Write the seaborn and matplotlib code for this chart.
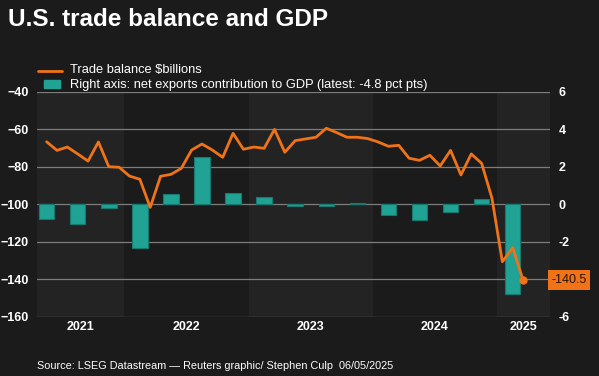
import numpy as np
import pandas as pd
import matplotlib
matplotlib.use("Agg")
import matplotlib.pyplot as plt
import seaborn as sns

# Balança comercial mensal (US$ bilhões), mai/2021 a mar/2025
meses = pd.period_range("2021-05", "2025-03", freq="M")
saldo = [-66.7, -71.3, -69.5, -73.2, -77.0, -66.8, -80.0, -80.3,
         -85.0, -86.7, -101.7, -85.1, -84.1, -80.9, -71.1, -67.9, -71.1, -75.0, -62.2, -70.7,
         -69.5, -70.2, -60.1, -72.3, -66.1, -65.2, -64.3, -59.5, -61.8, -64.3, -64.3, -65.0,
         -66.8, -69.1, -68.6, -75.5, -76.6, -73.9, -79.6, -71.3, -84.4, -73.2, -78.2, -96.9,
         -130.7, -123.2, -140.5]

# Contribuição das exportações líquidas ao PIB (pontos percentuais), 2T2021 a 1T2025
trimestres = pd.period_range("2021Q2", "2025Q1", freq="Q")
contrib = [-0.78, -1.07, -0.21, -2.34, 0.53, 2.50, 0.59, 0.37,
           -0.10, -0.07, 0.09, -0.59, -0.86, -0.43, 0.26, -4.78]

anos = ["2021", "2022", "2023", "2024", "2025"]

# posição em meses desde jan/2021 (meio do mês / meio do trimestre)
x_mes = [(p.year - 2021) * 12 + p.month - 1 + 0.5 for p in meses]
x_tri = [(p.year - 2021) * 12 + (p.quarter - 1) * 3 + 1.5 for p in trimestres]

df_linha = pd.DataFrame({"x": x_mes, "saldo": saldo})
df_barra = pd.DataFrame({"x": x_tri, "contrib": contrib})

fundo = "#1b1b1b"
faixa = "#232323"
laranja = "#f07318"
verde = "#20a295"
grade = "#7c7c7c"

sns.set_style("dark")
plt.rcParams["font.family"] = ["Liberation Sans", "DejaVu Sans"]

fig = plt.figure(figsize=(5.99, 3.76), dpi=100, facecolor=fundo)
W, H = 599, 376
x0, x1, y0, y1 = 37, 550, 91.7, 316.7
ax = fig.add_axes([x0 / W, 1 - y1 / H, (x1 - x0) / W, (y1 - y0) / H])
ax.set_facecolor(fundo)

xmin, xmax = 3.57, 53.1

# faixas alternadas por ano
for i in (0, 2, 4):
    ax.axvspan(i * 12, (i + 1) * 12, color=faixa, zorder=0, lw=0)

# barras (eixo direito)
sns.barplot(data=df_barra, x="x", y="contrib", native_scale=True, width=0.5,
            color=verde, edgecolor="#177a70", linewidth=0.8, saturation=1,
            ax=ax, zorder=3)
ax.set_ylim(-6, 6)
ticks_dir = np.arange(-6, 7, 2)
ax.set_yticks(ticks_dir)
# o "-4" fica escondido atrás do rótulo do último valor
ax.set_yticklabels(["" if t == -4 else str(t) for t in ticks_dir])
ax.grid(axis="y", color=grade, lw=0.9, zorder=1)
ax.grid(axis="x", visible=False)
ax.set_axisbelow(True)

# linha (eixo esquerdo)
ax2 = ax.twinx()
sns.lineplot(data=df_linha, x="x", y="saldo", color=laranja, lw=2, ax=ax2, zorder=5)
ax2.plot(x_mes[-1], saldo[-1], "o", color=laranja, ms=5, zorder=6)
ax2.set_ylim(-160, -40)
ax2.set_yticks(np.arange(-160, -39, 20))
ax2.grid(False)

# twinx joga os ticks do eixo original para a esquerda: troca aqui
ax.yaxis.tick_right()
ax2.yaxis.tick_left()

for a in (ax, ax2):
    a.set_xlim(xmin, xmax)
    a.set_xlabel("")
    a.set_ylabel("")
    for s in a.spines.values():
        s.set_visible(False)
    a.tick_params(length=0, colors="white", labelsize=9)
    for t in a.get_yticklabels():
        t.set_fontweight("bold")

ax.tick_params(axis="y", pad=6)
ax2.tick_params(axis="y", pad=6)

# rótulos dos anos no centro da parte visível de cada faixa
centros = []
for i in range(5):
    a0, a1 = max(i * 12, xmin), min((i + 1) * 12, xmax)
    centros.append((a0 + a1) / 2)
ax.set_xticks(centros)
ax.set_xticklabels(anos, fontweight="bold")
ax.tick_params(axis="x", pad=3)

# rótulo do último valor
ax2.annotate(f"{saldo[-1]:.1f}", xy=(1, saldo[-1]), xycoords=("axes fraction", "data"),
             xytext=(1, 0), textcoords="offset points", va="center", ha="left",
             fontsize=9, color="#2a1200",
             bbox=dict(boxstyle="square,pad=0.3", fc=laranja, ec="none"))

# título, legenda manual e fonte
fig.text(8 / W, 1 - 20 / H, "U.S. trade balance and GDP", fontsize=17.5,
         fontweight="bold", color="white", va="center")
fig.add_artist(plt.Line2D([38 / W, 62 / W], [1 - 71 / H, 1 - 71 / H], color=laranja, lw=2))
fig.add_artist(plt.Rectangle((44 / W, 1 - 88 / H), 16 / W, 8 / H, color=verde))
fig.text(70 / W, 1 - 70 / H, "Trade balance $billions", fontsize=9.3, color="white", va="center")
fig.text(70 / W, 1 - 85 / H, "Right axis: net exports contribution to GDP (latest: -4.8 pct pts)",
         fontsize=9.3, color="white", va="center")
fig.text(37 / W, 1 - 366 / H, "Source: LSEG Datastream \u2014 Reuters graphic/ Stephen Culp  06/05/2025",
         fontsize=7.8, color="white", va="center")

fig.savefig("out.png", dpi=100, facecolor=fundo)
